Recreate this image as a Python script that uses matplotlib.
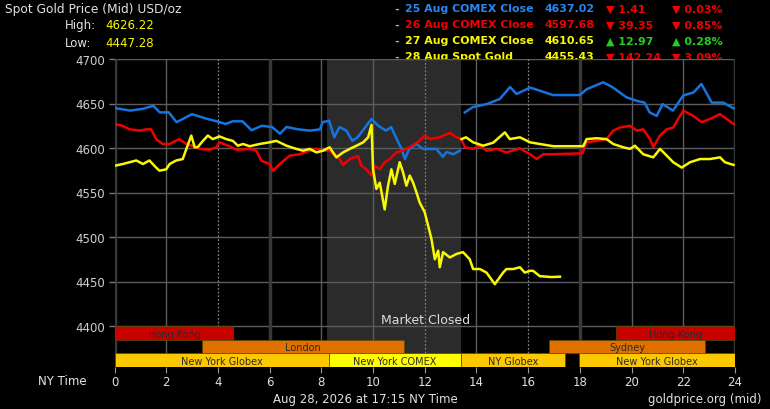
import numpy as np
import matplotlib.pyplot as plt

# --- price series (hour of NY day, USD/oz) ---
aug25_h = [0.0, 0.6, 1.1, 1.5, 1.75, 2.1, 2.4, 2.8, 3.0, 3.55, 3.95, 4.3, 4.57, 4.95, 5.3, 5.7, 6.1, 6.4,
           6.65, 7.1, 7.55, 7.95, 8.05, 8.3, 8.5, 8.7, 8.97, 9.2, 9.4, 9.6, 9.94, 10.2, 10.5, 10.7, 10.95,
           11.1, 11.23, 11.4, 11.68, 11.92, 12.2, 12.45, 12.7, 12.84, 13.1, 13.36, 13.45, 13.55, 13.86,
           14.4, 14.9, 15.3, 15.55, 15.94, 16.07, 16.45, 16.96, 18.0, 18.26, 18.9, 19.28, 19.8, 20.2,
           20.5, 20.7, 20.97, 21.2, 21.6, 22.0, 22.4, 22.7, 23.1, 23.55, 23.94]
aug25_p = [4645, 4642, 4644, 4647.5, 4640, 4640, 4629, 4635, 4638, 4633, 4630, 4627, 4630, 4630, 4620,
           4625, 4623.5, 4616, 4623.6, 4621, 4619.5, 4621, 4629, 4630.7, 4612, 4623.5, 4619.5, 4608,
           4612, 4619.5, 4632.6, 4625, 4619.5, 4623.5, 4608, 4599, 4587.6, 4599, 4604.5, 4599, 4599,
           4599, 4590, 4595.5, 4593, 4597, np.nan, 4640, 4646, 4649.4, 4655, 4668.5, 4660.7, 4666,
           4668, 4664.4, 4659.5, 4659.5, 4666, 4673.8, 4668, 4657, 4653, 4651, 4640, 4636, 4649.4,
           4642, 4659, 4662.5, 4672, 4651, 4651, 4644.6]

aug26_h = [0, 0.3, 0.58, 0.97, 1.23, 1.42, 1.61, 1.86, 2.13, 2.5, 2.78, 3.16, 3.29, 3.68, 3.94, 4.06,
           4.45, 4.71, 5.23, 5.49, 5.68, 6.0, 6.13, 6.39, 6.78, 7.16, 7.55, 7.81, 8.06, 8.32, 8.71,
           8.84, 9.1, 9.42, 9.55, 9.74, 9.94, 10.07, 10.26, 10.45, 10.65, 10.9, 11.16, 11.42, 11.8,
           12.0, 12.2, 12.58, 12.97, 13.23, 13.42, 13.55, 13.87, 14.13, 14.39, 14.78, 15.16, 15.68,
           16.07, 16.33, 16.58, 16.97, 18.1, 18.26, 18.65, 19.03, 19.29, 19.55, 19.94, 20.2, 20.45,
           20.71, 20.84, 21.1, 21.36, 21.61, 21.8, 22.0, 22.39, 22.71, 23.03, 23.42, 23.68, 23.94]
aug26_p = [4627, 4625, 4621, 4619.5, 4621, 4621, 4610, 4604.5, 4604.5, 4610, 4604.5, 4600.8, 4599,
           4598, 4600.8, 4606.4, 4602, 4598, 4599, 4597, 4585.7, 4582, 4574.5, 4582, 4591.4, 4593,
           4597, 4599, 4597, 4597, 4587.6, 4581, 4587.6, 4591, 4580, 4576, 4569, 4580, 4576, 4584,
           4587.6, 4595, 4597, 4601, 4608, 4614, 4610, 4612, 4617, 4612, 4610, 4600.8, 4599, 4602.6,
           4597, 4599, 4595, 4599.6, 4593, 4587.6, 4593, 4593, 4594, 4606.4, 4608, 4610, 4619.5,
           4623, 4625, 4619.5, 4621, 4610, 4601, 4614, 4621, 4623, 4632.6, 4642, 4636, 4629, 4632.6,
           4638, 4632.6, 4627]

aug27_h = [13.42, 13.6, 13.87, 14.26, 14.65, 15.1, 15.29, 15.68, 16.07, 16.45, 16.97, 18.13, 18.26,
           18.65, 19.03, 19.29, 19.68, 19.94, 20.13, 20.45, 20.84, 21.1, 21.36, 21.61, 21.94, 22.26,
           22.65, 23.03, 23.42, 23.61, 23.94]
aug27_p = [4610, 4612, 4606.4, 4602.6, 4606, 4617.6, 4610, 4612, 4606.4, 4604.5, 4602, 4602, 4610,
           4611, 4610, 4604.5, 4600.8, 4599, 4602.6, 4593, 4589.5, 4599, 4591.4, 4584, 4578, 4584,
           4587.6, 4587.6, 4589.5, 4584, 4581]

aug28_h = [0, 0.32, 0.58, 0.84, 1.1, 1.35, 1.61, 1.74, 2.0, 2.13, 2.39, 2.64, 2.78, 2.97, 3.1, 3.22,
           3.42, 3.61, 3.8, 4.06, 4.32, 4.58, 4.77, 4.97, 5.23, 5.61, 6.0, 6.26, 6.65, 7.03, 7.29,
           7.55, 7.81, 8.06, 8.32, 8.58, 8.84, 9.1, 9.36, 9.62, 9.81, 9.94, 10.0, 10.13, 10.26, 10.45,
           10.58, 10.71, 10.84, 11.03, 11.16, 11.29, 11.42, 11.55, 11.68, 11.8, 12.0, 12.13, 12.26,
           12.39, 12.52, 12.58, 12.71, 12.97, 13.23, 13.48, 13.74, 13.87, 14.13, 14.39, 14.71, 15.03,
           15.16, 15.42, 15.68, 15.87, 16.07, 16.19, 16.45, 16.9, 17.23]
aug28_p = [4580, 4582, 4584, 4586, 4582, 4586, 4578, 4574.5, 4576, 4582, 4586, 4587.6, 4599, 4614,
           4600.8, 4601, 4608, 4614, 4610, 4613, 4610, 4608, 4602.6, 4604.5, 4602, 4604.5, 4606.4,
           4608, 4602.6, 4599, 4597, 4599, 4595, 4597, 4600.8, 4589.5, 4595, 4599, 4602.6, 4606.4,
           4612, 4626, 4576, 4554, 4561, 4531, 4557.6, 4576, 4559.6, 4584, 4572.7, 4557.6, 4569,
           4561, 4550, 4539, 4527.7, 4512.7, 4497.8, 4475, 4484.6, 4466, 4483, 4477, 4481, 4483,
           4475, 4464, 4464, 4460, 4447, 4460, 4464, 4464, 4466, 4460, 4462, 4462, 4456, 4455, 4455.4]

# --- legend rows ---
leg_names = ['25 Aug COMEX Close', '26 Aug COMEX Close', '27 Aug COMEX Close', '28 Aug Spot Gold']
leg_close = ['4637.02', '4597.68', '4610.65', '4455.43']
leg_chg = ['1.41', '39.35', '12.97', '142.24']
leg_pct = ['0.03%', '0.85%', '0.28%', '3.09%']
leg_up = [False, False, True, False]
high_val = '4626.22'
low_val = '4447.28'

# --- trading sessions ---
sess_names = ['Hong Kong', 'Hong Kong', 'London', 'Sydney', 'New York Globex', 'New York COMEX',
              'NY Globex', 'New York Globex']
sess_start = [0, 19.4, 3.4, 16.82, 0, 8.3, 13.4, 17.98]
sess_end = [4.6, 24, 11.19, 22.85, 8.3, 13.4, 17.43, 24]
sess_row = [0, 0, 1, 1, 2, 2, 2, 2]
closed_start, closed_end = 8.22, 13.42

BLUE = '#1474e0'
RED = '#f00000'
YEL = '#f8f800'
GRID = '#5c5c5c'
sess_col = {'Hong Kong': '#c80000', 'London': '#e07000', 'Sydney': '#e07000',
            'New York Globex': '#fcc800', 'NY Globex': '#fcc800', 'New York COMEX': '#ffff00'}

W, H = 770, 410
fig = plt.figure(figsize=(W / 100, H / 100), dpi=100, facecolor='black')
plt.rcParams['font.family'] = ['DejaVu Sans']

def fx(px):
    return px / W

def fy(py):
    return 1 - py / H

# main price axes: pixel box x 114..735, y 60..368
ax = fig.add_axes([fx(114.5), fy(368), (735 - 114.5) / W, 308 / H], facecolor='black')
ax.set_xlim(0, 24)
ax.set_ylim(4700 - 308 / 0.89, 4700)
for s in ax.spines.values():
    s.set_visible(False)

# gridlines
gy = 14 / 308
for v in range(4400, 4701, 50):
    ax.axhline(v, color=GRID, lw=1, zorder=1)
for h in range(0, 25, 2):
    if h in (0, 6, 18, 24):
        ax.axvline(h, ymin=gy, color='#383838', lw=2.5, zorder=1)
    elif h in (4, 12, 16):
        ax.axvline(h, ymin=gy, color='#808080', lw=0.9, ls=(0, (1.5, 1.5)), zorder=1)
    else:
        ax.axvline(h, ymin=gy, color=GRID, lw=1, zorder=1)
ax.axvspan(closed_start, closed_end, ymin=gy, color='#2b2b2b', zorder=0.5, lw=0)
ax.text((closed_start + closed_end) / 2 + 1.2, 4700 - (320.5 - 60) / 0.89, 'Market Closed',
        color='#dddddd', fontsize=9, ha='center', va='center', zorder=2)

ax.set_yticks(range(4400, 4701, 50))
ax.set_xticks([])
ax.tick_params(axis='y', colors='#777777', length=4, width=1, labelcolor='#d0d0d0',
               labelsize=8.5, pad=3)

ax.plot(aug25_h, aug25_p, color=BLUE, lw=1.8, zorder=3)
ax.plot(aug26_h, aug26_p, color=RED, lw=1.8, zorder=3)
ax.plot(aug27_h, aug27_p, color=YEL, lw=1.8, zorder=3)
ax.plot(aug28_h, aug28_p, color=YEL, lw=1.8, zorder=4)

# session bars axes: pixel y 327..368
bx = fig.add_axes([fx(114.5), fy(368), (735 - 114.5) / W, 41 / H])
bx.patch.set_visible(False)
bx.set_xlim(0, 24)
bx.set_ylim(3, 0)
for s in bx.spines.values():
    s.set_visible(False)
for name, a, b, r in zip(sess_names, sess_start, sess_end, sess_row):
    bx.barh(r + 0.5, b - a, left=a, height=1.0, color=sess_col[name], edgecolor='#5a4a00',
            lw=0.5, zorder=2)
    bx.text((a + b) / 2, r + 0.55, name, fontsize=7, color='#2a2a2a', ha='center', va='center',
            zorder=3)
bx.set_yticks([])
bx.set_xticks(range(0, 25, 2))
bx.tick_params(axis='x', colors='#999999', length=4, labelcolor='#e0e0e0', labelsize=8.5, pad=2)

# header texts
fig.text(fx(5), fy(9), 'Spot Gold Price (Mid) USD/oz', color='#e0e0e0', fontsize=8.8, va='center')
fig.text(fx(65), fy(25.5), 'High:', color='#e0e0e0', fontsize=8.5, va='center')
fig.text(fx(105), fy(25.5), high_val, color=YEL, fontsize=8.5, va='center')
fig.text(fx(65), fy(43.5), 'Low:', color='#e0e0e0', fontsize=8.5, va='center')
fig.text(fx(105), fy(43.5), low_val, color=YEL, fontsize=8.5, va='center')

leg_cols = ['#2a86f0', RED, YEL, YEL]
for i, (nm, cl, ch, pc, up) in enumerate(zip(leg_names, leg_close, leg_chg, leg_pct, leg_up)):
    y = fy(9.5 + 16 * i)
    zo = -1 if i == 3 else 3
    kw = dict(fontsize=7.9, fontweight='bold', va='center', zorder=zo)
    arrow = '▲' if up else '▼'
    acol = '#20d020' if up else RED
    fig.text(fx(394), y, '-', color='#aaaaaa', **kw)
    fig.text(fx(405), y, nm, color=leg_cols[i], **kw)
    fig.text(fx(545), y, cl, color=leg_cols[i], **kw)
    fig.text(fx(606), y, arrow + ' ' + ch, color=acol, **kw)
    fig.text(fx(672), y, arrow + ' ' + pc, color=acol, **kw)

# footer
fig.text(fx(38), fy(382), 'NY Time', color='#e8e8e8', fontsize=8.5, va='center')
fig.text(fx(365), fy(399.5), 'Aug 28, 2026 at 17:15 NY Time', color='#e0e0e0', fontsize=8.5,
         ha='center', va='center')
fig.text(fx(761), fy(399.5), 'goldprice.org (mid)', color='#e0e0e0', fontsize=8.5,
         ha='right', va='center')

fig.savefig('out.png', dpi=100, facecolor='black')
